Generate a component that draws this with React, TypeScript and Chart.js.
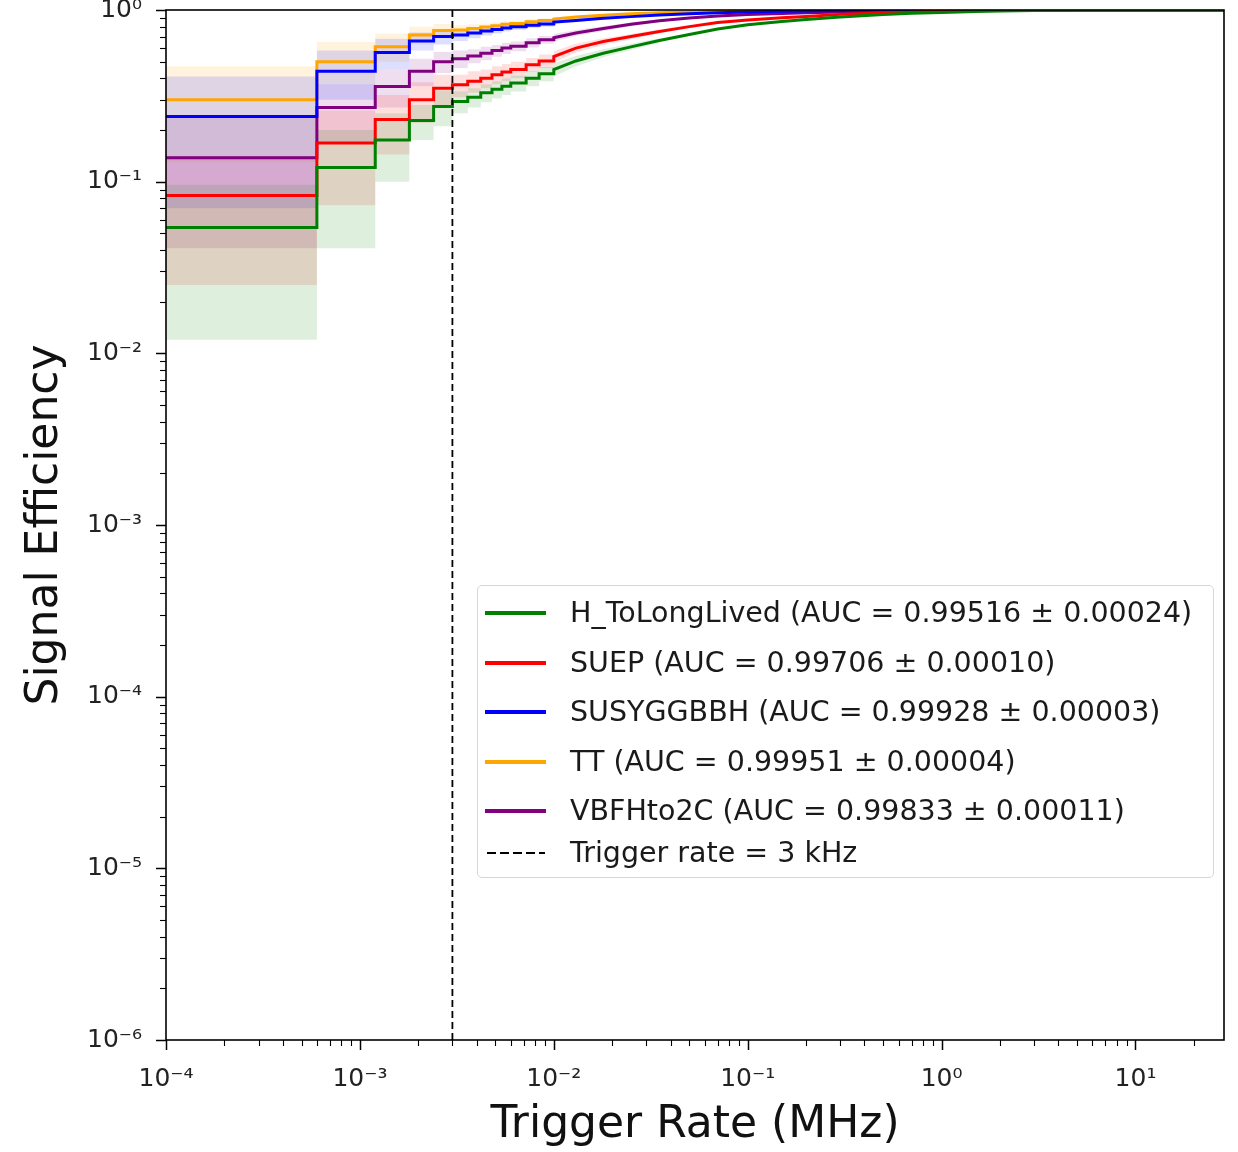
import React, { useEffect, useRef } from 'react';
import { Chart, registerables } from 'chart.js';

Chart.register(...registerables);

// Trigger rate (MHz) breakpoints of the ROC-derived curves
const rates = [1e-4, 6e-4, 1.2e-3, 1.8e-3, 2.4e-3, 3.0e-3, 3.6e-3, 4.2e-3, 4.8e-3, 5.4e-3, 6.0e-3, 7.2e-3, 8.4e-3, 1.0e-2, 1.3e-2, 1.8e-2, 2.5e-2, 3.5e-2, 5e-2, 7e-2, 0.1, 0.15, 0.2, 0.3, 0.5, 0.7, 1.0, 1.5, 2, 3, 5, 10, 28.61];
// points below this index are held constant until the next rate (staircase)
const N_STEP = 13;

const effH = [0.054, 0.121, 0.175, 0.227, 0.274, 0.293, 0.31, 0.33, 0.345, 0.36, 0.375, 0.40, 0.425, 0.45, 0.505, 0.56, 0.61, 0.665, 0.72, 0.775, 0.82, 0.857, 0.88, 0.91, 0.942, 0.957, 0.968, 0.98, 0.988, 0.994, 0.998, 1.0, 1.0];
const effSUEP = [0.083, 0.168, 0.23, 0.30, 0.35, 0.367, 0.385, 0.40, 0.42, 0.435, 0.45, 0.48, 0.505, 0.535, 0.60, 0.655, 0.70, 0.75, 0.80, 0.845, 0.875, 0.90, 0.918, 0.943, 0.965, 0.975, 0.985, 0.992, 0.995, 0.998, 0.999, 1.0, 1.0];
const effSUSY = [0.24, 0.44, 0.565, 0.66, 0.70, 0.716, 0.735, 0.755, 0.77, 0.785, 0.80, 0.815, 0.83, 0.85, 0.87, 0.895, 0.915, 0.935, 0.952, 0.965, 0.975, 0.983, 0.988, 0.993, 0.997, 0.999, 1.0, 1.0, 1.0, 1.0, 1.0, 1.0, 1.0];
const effTT = [0.30, 0.50, 0.61, 0.716, 0.76, 0.765, 0.78, 0.795, 0.81, 0.825, 0.835, 0.855, 0.87, 0.885, 0.91, 0.932, 0.95, 0.963, 0.975, 0.983, 0.988, 0.992, 0.995, 0.997, 0.999, 1.0, 1.0, 1.0, 1.0, 1.0, 1.0, 1.0, 1.0];
const effVBF = [0.138, 0.27, 0.358, 0.44, 0.50, 0.52, 0.54, 0.56, 0.58, 0.60, 0.615, 0.645, 0.67, 0.69, 0.735, 0.78, 0.825, 0.865, 0.897, 0.922, 0.94, 0.955, 0.963, 0.974, 0.984, 0.99, 0.994, 0.997, 0.998, 0.999, 1.0, 1.0, 1.0];

// uncertainty bands (lower / upper) over the first rates
const loH = [0.012, 0.041, 0.10, 0.175, 0.21, 0.25, 0.27, 0.29, 0.305, 0.32, 0.335, 0.36, 0.385, 0.41, 0.47, 0.53, 0.585, 0.645];
const hiH = [0.096, 0.20, 0.25, 0.28, 0.34, 0.336, 0.35, 0.37, 0.385, 0.40, 0.415, 0.44, 0.465, 0.49, 0.54, 0.59, 0.635, 0.685];
const loSUEP = [0.025, 0.073, 0.144, 0.22, 0.28, 0.31, 0.33, 0.35, 0.37, 0.385, 0.40, 0.435, 0.46, 0.495, 0.565, 0.625, 0.675, 0.73];
const hiSUEP = [0.141, 0.26, 0.32, 0.38, 0.42, 0.42, 0.44, 0.45, 0.47, 0.485, 0.50, 0.525, 0.55, 0.575, 0.635, 0.685, 0.725, 0.77];
const loSUSY = [0.07, 0.30, 0.45, 0.58, 0.63, 0.66, 0.685, 0.71, 0.73, 0.75, 0.765, 0.785, 0.80, 0.825, 0.85, 0.88, 0.90, 0.925];
const hiSUSY = [0.41, 0.58, 0.68, 0.74, 0.77, 0.77, 0.785, 0.80, 0.81, 0.82, 0.835, 0.845, 0.86, 0.875, 0.89, 0.91, 0.93, 0.945];
const loTT = [0.13, 0.37, 0.50, 0.63, 0.69, 0.715, 0.735, 0.755, 0.775, 0.79, 0.805, 0.825, 0.845, 0.86, 0.89, 0.917, 0.94, 0.955];
const hiTT = [0.47, 0.65, 0.73, 0.80, 0.83, 0.815, 0.825, 0.835, 0.845, 0.86, 0.865, 0.885, 0.895, 0.91, 0.93, 0.947, 0.96, 0.971];
const loVBF = [0.041, 0.17, 0.27, 0.36, 0.43, 0.46, 0.49, 0.51, 0.535, 0.555, 0.575, 0.605, 0.635, 0.655, 0.705, 0.755, 0.805, 0.85];
const hiVBF = [0.235, 0.37, 0.45, 0.52, 0.57, 0.58, 0.59, 0.61, 0.625, 0.645, 0.655, 0.685, 0.705, 0.725, 0.765, 0.805, 0.845, 0.88];

const seriesNames = ['H_ToLongLived', 'SUEP', 'SUSYGGBBH', 'TT', 'VBFHto2C'];
const aucValues = ['0.99516', '0.99706', '0.99928', '0.99951', '0.99833'];
const aucErrors = ['0.00024', '0.00010', '0.00003', '0.00004', '0.00011'];
const seriesColors = ['#008000', '#ff0000', '#0000ff', '#ffa500', '#800080'];
const bandColors = ['rgba(0,128,0,0.13)', 'rgba(255,0,0,0.13)', 'rgba(0,0,255,0.13)', 'rgba(255,165,0,0.13)', 'rgba(128,0,128,0.13)'];
const seriesEff = [effH, effSUEP, effSUSY, effTT, effVBF];
const seriesLo = [loH, loSUEP, loSUSY, loTT, loVBF];
const seriesHi = [hiH, hiSUEP, hiSUSY, hiTT, hiVBF];

const triggerRate = 3e-3; // MHz (3 kHz)
const triggerLabel = 'Trigger rate = 3 kHz';
const xRange = [1e-4, 28.61];
const yRange = [1e-6, 1];
const xTitle = 'Trigger Rate (MHz)';
const yTitle = 'Signal Efficiency';

const SUP: Record<string, string> = { '0': '⁰', '1': '¹', '2': '²', '3': '³', '4': '⁴', '5': '⁵', '6': '⁶', '7': '⁷', '8': '⁸', '9': '⁹', '-': '⁻' };

function toPoints(values: number[]) {
  const pts: { x: number; y: number }[] = [];
  for (let i = 0; i < values.length; i++) {
    if (i > 0 && i <= N_STEP) pts.push({ x: rates[i], y: values[i - 1] });
    pts.push({ x: rates[i], y: values[i] });
  }
  return pts;
}

function decade(v: number) {
  const e = Math.floor(Math.log10(v) + 1e-9);
  const m = v / Math.pow(10, e);
  return { e, m };
}

function fmtTick(value: any) {
  const v = Number(value);
  const { e, m } = decade(v);
  if (Math.abs(m - 1) > 1e-6) return '';
  return '10' + String(e).split('').map((c) => SUP[c]).join('');
}

const framePlugin = {
  id: 'frameTicks',
  afterDraw(chart: any) {
    const ctx = chart.ctx;
    const { left, right, top, bottom } = chart.chartArea;
    ctx.save();
    ctx.strokeStyle = '#000';
    ['x', 'y'].forEach((id) => {
      const sc = chart.scales[id];
      sc.ticks.forEach((t: any) => {
        const v = t.value;
        const { m } = decade(v);
        if (Math.abs(m - Math.round(m)) > 1e-6) return;
        const major = Math.abs(m - 1) < 1e-6;
        const len = major ? 10 : 6;
        ctx.lineWidth = major ? 1.5 : 1.1;
        const p = Math.round(sc.getPixelForValue(v)) + 0.5;
        ctx.beginPath();
        if (id === 'x') {
          ctx.moveTo(p, bottom);
          ctx.lineTo(p, bottom + len);
        } else {
          ctx.moveTo(left, p);
          ctx.lineTo(left - len, p);
        }
        ctx.stroke();
      });
    });
    ctx.lineWidth = 1.6;
    ctx.strokeRect(left, top, right - left, bottom - top);
    ctx.restore();
  },
};

export default function App() {
  const ref = useRef<HTMLCanvasElement>(null);

  useEffect(() => {
    const datasets: any[] = [];
    datasets.push({
      label: triggerLabel,
      data: [
        { x: triggerRate, y: yRange[0] },
        { x: triggerRate, y: yRange[1] },
      ],
      borderColor: '#000',
      borderWidth: 1.8,
      borderDash: [7, 4],
      pointRadius: 0,
      fill: false,
    });
    seriesEff.forEach((eff, i) => {
      datasets.push({
        label: seriesNames[i],
        data: toPoints(eff),
        borderColor: seriesColors[i],
        borderWidth: 3,
        pointRadius: 0,
        fill: false,
        tension: 0,
      });
    });
    seriesLo.forEach((lo, i) => {
      datasets.push({
        label: seriesNames[i] + ' lo',
        data: toPoints(lo),
        borderWidth: 0,
        borderColor: 'rgba(0,0,0,0)',
        pointRadius: 0,
        fill: false,
      });
      datasets.push({
        label: seriesNames[i] + ' hi',
        data: toPoints(seriesHi[i]),
        borderWidth: 0,
        borderColor: 'rgba(0,0,0,0)',
        backgroundColor: bandColors[i],
        pointRadius: 0,
        fill: '-1',
      });
    });

    const tickFont = { family: 'DejaVu Sans', size: 25 };
    const titleFont = { family: 'DejaVu Sans', size: 44 };

    const chart = new Chart(ref.current as HTMLCanvasElement, {
      type: 'line',
      data: { datasets },
      options: {
        responsive: false,
        animation: false,
        devicePixelRatio: 1,
        layout: { padding: { top: 10, right: 14, left: 0, bottom: 0 } },
        plugins: {
          legend: { display: false },
          tooltip: { enabled: false },
        },
        scales: {
          x: {
            type: 'logarithmic',
            min: xRange[0],
            max: xRange[1],
            border: { display: false },
            grid: { display: false, drawTicks: false },
            ticks: {
              autoSkip: false,
              maxRotation: 0,
              minRotation: 0,
              padding: 24,
              color: '#222',
              font: tickFont,
              callback: fmtTick,
            },
            title: {
              display: true,
              text: xTitle,
              color: '#111',
              font: titleFont,
              padding: { top: 0, bottom: 0 },
            },
            afterFit: (s: any) => {
              s.height = 112;
              s.paddingLeft = 0;
              s.paddingRight = 0;
            },
          },
          y: {
            type: 'logarithmic',
            min: yRange[0],
            max: yRange[1],
            border: { display: false },
            grid: { display: false, drawTicks: false },
            ticks: {
              autoSkip: false,
              padding: 24,
              color: '#222',
              font: tickFont,
              callback: fmtTick,
            },
            title: {
              display: true,
              text: yTitle,
              color: '#111',
              font: titleFont,
              padding: { top: 19, bottom: 0 },
            },
            afterFit: (s: any) => {
              s.width = 166;
              s.paddingTop = 0;
              s.paddingBottom = 0;
            },
          },
        },
      } as any,
      plugins: [framePlugin],
    });
    return () => chart.destroy();
  }, []);

  const legendFont: React.CSSProperties = {
    fontFamily: 'DejaVu Sans',
    fontSize: 28.5,
    color: '#1a1a1a',
    whiteSpace: 'nowrap',
    position: 'absolute',
    left: 92,
    lineHeight: '34px',
    top: -17,
  };

  return (
    <div style={{ position: 'absolute', left: 0, top: 0, width: 1238, height: 1152, background: '#fff' }}>
      <canvas ref={ref} width={1238} height={1152} style={{ display: 'block', width: 1238, height: 1152 }} />
      <div
        style={{
          position: 'absolute',
          left: 477,
          top: 585,
          width: 737,
          height: 293,
          boxSizing: 'border-box',
          border: '1.5px solid #d6d6d6',
          borderRadius: 5,
          background: 'rgba(255,255,255,0.85)',
        }}
      >
        {seriesNames.map((name, i) => (
          <div key={name} style={{ position: 'absolute', left: 0, top: 27 + i * 49.5, width: '100%', height: 0 }}>
            <div style={{ position: 'absolute', left: 7, top: -2, width: 61, height: 4, background: seriesColors[i] }} />
            <div style={legendFont}>{`${name} (AUC = ${aucValues[i]} ± ${aucErrors[i]})`}</div>
          </div>
        ))}
        <div style={{ position: 'absolute', left: 0, top: 267, width: '100%', height: 0 }}>
          <div
            style={{
              position: 'absolute',
              left: 9,
              top: -1,
              width: 58,
              height: 2,
              background: 'repeating-linear-gradient(to right, #000 0px, #000 9px, transparent 9px, transparent 13px)',
            }}
          />
          <div style={legendFont}>{triggerLabel}</div>
        </div>
      </div>
    </div>
  );
}
